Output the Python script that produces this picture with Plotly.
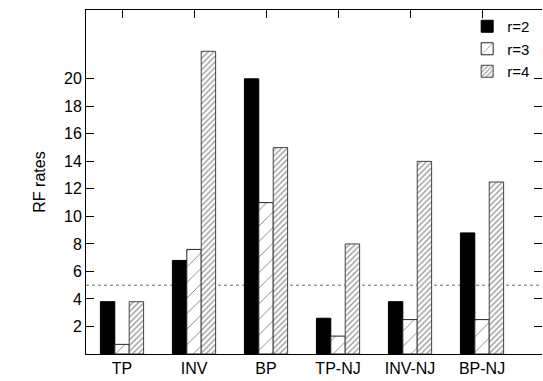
import plotly.graph_objects as go

CATEGORIES = ["TP", "INV", "BP", "TP-NJ", "INV-NJ", "BP-NJ"]
R2 = [3.8, 6.8, 20.0, 2.6, 3.8, 8.8]
R3 = [0.7, 7.6, 11.0, 1.3, 2.5, 2.5]
R4 = [3.8, 22.0, 15.0, 8.0, 14.0, 12.5]
SERIES_NAMES = ["r=2", "r=3", "r=4"]
Y_TICKS = [2, 4, 6, 8, 10, 12, 14, 16, 18, 20]
THRESHOLD = 5
Y_LABEL = "RF rates"

FONT = dict(family="Liberation Sans, Arial, sans-serif", size=16, color="black")

fig = go.Figure()
fig.add_trace(go.Bar(
    x=CATEGORIES, y=R2, name=SERIES_NAMES[0],
    marker=dict(color="black", line=dict(color="black", width=1)),
))
fig.add_trace(go.Bar(
    x=CATEGORIES, y=R3, name=SERIES_NAMES[1],
    marker=dict(color="white", line=dict(color="#222", width=1),
                pattern=dict(shape="/", size=11, solidity=0.08,
                             fgcolor="black", bgcolor="white", fillmode="overlay")),
))
fig.add_trace(go.Bar(
    x=CATEGORIES, y=R4, name=SERIES_NAMES[2],
    marker=dict(color="white", line=dict(color="#444", width=1),
                pattern=dict(shape="/", size=4, solidity=0.35,
                             fgcolor="#333", bgcolor="white", fillmode="overlay")),
))
# invisible helper trace so the right-hand tick axis (no border line) is drawn
fig.add_trace(go.Scatter(
    x=CATEGORIES, y=R2, yaxis="y2", mode="markers",
    marker=dict(opacity=0, size=1), showlegend=False, hoverinfo="skip",
))

fig.add_shape(type="line", xref="paper", x0=0, x1=1, yref="y",
              y0=THRESHOLD, y1=THRESHOLD,
              line=dict(color="#666", width=1, dash="dot"), layer="below")

fig.update_layout(
    width=543, height=381,
    margin=dict(l=86, r=1, t=10, b=27, autoexpand=False),
    paper_bgcolor="white", plot_bgcolor="white",
    font=FONT,
    barmode="group", bargap=0.4, bargroupgap=0,
    showlegend=True,
    legend=dict(x=0.985, xanchor="right", y=1.0, yanchor="top",
                bgcolor="rgba(0,0,0,0)", font=dict(size=15),
                tracegroupgap=0, itemwidth=30),
    xaxis=dict(
        type="category", range=[-0.5, 5.833],
        showline=True, linecolor="black", linewidth=1, mirror="ticks",
        ticks="inside", ticklen=8, tickcolor="black",
        showgrid=False, zeroline=False, layer="below traces",
    ),
    yaxis=dict(
        range=[0, 25], tickvals=Y_TICKS,
        showline=True, linecolor="black", linewidth=1, mirror=False,
        ticks="inside", ticklen=8, tickcolor="black",
        showgrid=False, zeroline=False,
        title=dict(text=Y_LABEL, standoff=14, font=dict(size=16)),
    ),
    yaxis2=dict(
        overlaying="y", side="right", anchor="x", range=[0, 25], tickvals=Y_TICKS,
        showline=False, ticks="inside", ticklen=8, tickcolor="black",
        showticklabels=False, showgrid=False, zeroline=False,
    ),
)

fig.write_html("out.html")
